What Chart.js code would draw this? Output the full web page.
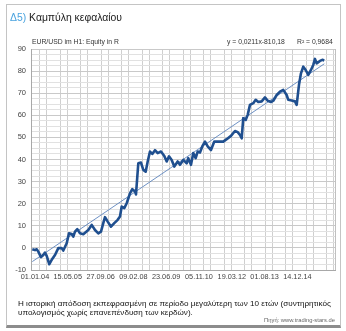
<!DOCTYPE html>
<html><head><meta charset="utf-8">
<script src="https://cdn.jsdelivr.net/npm/chart.js@4.4.1/dist/chart.umd.min.js"></script>
<style>
html,body{margin:0;padding:0;background:#fff;}
#wrap{position:relative;width:346px;height:331px;overflow:hidden;font-family:"Liberation Sans",Arial,sans-serif;}
#frame{position:absolute;left:6px;top:4px;width:333px;height:320px;border:1px solid #c4c4c4;border-bottom:3px solid #8c8c8c;}
canvas{position:absolute;left:0;top:0;}
.t{position:absolute;white-space:nowrap;}
</style></head><body>
<div id="wrap">
<div id="frame"></div>
<canvas id="c" width="346" height="331"></canvas>
<div class="t" style="left:10px;top:12px;font-size:10.4px;line-height:12px;color:#1a1a1a"><span style="color:#4aa3df">Δ5)</span> Καμπύλη κεφαλαίου</div>
<div class="t" style="left:32px;top:38px;font-size:6.8px;line-height:8px;color:#333">EUR/USD im H1: Equity in R</div>
<div class="t" style="left:227px;top:38px;font-size:6.8px;line-height:8px;color:#333">y = 0,0211x-810,18</div>
<div class="t" style="left:297px;top:38px;font-size:6.8px;line-height:8px;color:#333">R² = 0,9684</div>
<div class="t" style="left:18px;top:298.5px;font-size:8.1px;line-height:10px;color:#111">Η ιστορική απόδοση εκπεφρασμένη σε περίοδο μεγαλύτερη των 10 ετών (συντηρητικός</div>
<div class="t" style="left:18px;top:308px;font-size:8.1px;line-height:10px;color:#111">υπολογισμός χωρίς επανεπένδυση των κερδών).</div>
<div class="t" style="right:11px;top:316.5px;font-size:5.8px;line-height:7px;color:#666">Πηγή: www.trading-stars.de</div>
</div>
<script>
// ---- data (decimal years / equity in R) ----
const years = [2003.887,2004.000,2004.071,2004.138,2004.250,2004.346,2004.417,2004.488,2004.597,2004.697,
2004.835,2004.972,2005.114,2005.181,2005.323,2005.419,2005.531,2005.598,2005.669,2005.765,
2005.878,2006.016,2006.224,2006.366,2006.504,2006.642,2006.754,2006.850,2006.921,2007.034,
2007.171,2007.309,2007.451,2007.547,2007.618,2007.726,2007.827,2007.964,2008.060,2008.173,
2008.215,2008.311,2008.423,2008.519,2008.619,2008.703,2008.799,2008.895,2009.008,2009.120,
2009.258,2009.396,2009.496,2009.592,2009.704,2009.813,2009.955,2010.051,2010.189,2010.330,
2010.397,2010.510,2010.606,2010.706,2010.789,2010.885,2010.981,2011.094,2011.207,2011.344,
2011.482,2011.649,2011.858,2011.999,2012.179,2012.346,2012.459,2012.555,2012.625,2012.692,
2012.793,2012.876,2012.972,2013.110,2013.210,2013.318,2013.460,2013.598,2013.711,2013.848,
2013.944,2014.086,2014.224,2014.361,2014.503,2014.570,2014.712,2014.850,2014.921,2015.017,
2015.100,2015.196,2015.296,2015.405,2015.517,2015.613,2015.684,2015.755,2015.893,2015.989,2016.073];
const equity = [-0.6,-1.0,-0.6,-1.7,-4.2,-3.2,-2.1,-3.6,-7.4,-5.4,
-3.2,-0.1,-0.1,-1.2,2.1,6.6,6.3,5.1,7.4,8.5,
6.6,6.2,8.1,10.4,8.1,6.6,7.4,11.2,13.9,11.9,
9.6,11.2,12.7,14.2,18.7,18.0,20.2,24.7,26.6,25.5,
24.2,38.3,38.6,35.3,34.5,39.1,43.6,42.5,44.2,42.9,
43.6,41.6,39.1,41.4,39.8,36.8,39.1,37.6,39.8,38.3,
40.6,37.6,42.9,40.6,43.6,43.2,45.9,48.1,45.9,44.3,
48.1,48.1,48.1,49.2,50.7,52.9,52.4,51.1,49.6,58.7,
57.9,60.2,64.7,65.5,67.0,66.0,66.3,68.1,66.6,66.0,
66.6,69.2,70.7,71.5,69.2,67.0,66.7,66.3,64.7,73.8,
79.0,82.0,80.5,78.3,80.5,82.8,85.5,83.5,84.6,85.1,84.8];
const trendYears = [2003.887, 2016.073];
const trendValues = [-6.2, 83.3];
const xTickLabels = ["01.01.04","15.05.05","27.09.06","09.02.08","23.06.09","05.11.10","19.03.12","01.08.13","14.12.14"];
const yTicks = [-10,0,10,20,30,40,50,60,70,80,90];

// helpers
function labelToYear(s){
  const [d,m,y]=s.split('.').map(Number);
  const full=2000+y;
  const t=Date.UTC(full,m-1,d), t0=Date.UTC(full,0,1), t1=Date.UTC(full+1,0,1);
  return full+(t-t0)/(t1-t0);
}
const tickYears = xTickLabels.map(labelToYear);
const XMIN=2003.833, XMAX=2016.52;
// vertical grid pattern (pairs of lines)
const gridX=[];
for(let k=-8;k<=8;k++){
  const a=2010.189+k*0.8555, b=a+0.28;
  if(a>XMIN+0.05&&a<XMAX-0.02) gridX.push(a);
  if(b>XMIN+0.05&&b<XMAX-0.02) gridX.push(b);
}
gridX.sort((p,q)=>p-q);

new Chart(document.getElementById('c'),{
  type:'line',
  data:{datasets:[
    {data:years.map((x,i)=>({x,y:equity[i]})),borderColor:'#1f4f8f',borderWidth:2.6,pointRadius:0,tension:0,order:1,borderJoinStyle:'round',xAxisID:'x',yAxisID:'y'},
    {data:trendYears.map((x,i)=>({x,y:trendValues[i]})),borderColor:'#5d84bd',borderWidth:0.9,pointRadius:0,order:2,xAxisID:'x',yAxisID:'y'}
  ]},
  options:{
    responsive:false,animation:false,devicePixelRatio:1,
    layout:{padding:{left:0,right:11,top:49,bottom:49}},
    plugins:{legend:{display:false},tooltip:{enabled:false}},
    scales:{
      x:{type:'linear',position:'bottom',min:XMIN,max:XMAX,
        afterBuildTicks:s=>{s.ticks=tickYears.map(v=>({value:v}));},
        afterFit:s=>{s.height=12;},
        grid:{display:false,drawTicks:false},
        border:{display:true,color:'#a8a8a8',width:1},
        ticks:{autoSkip:false,maxRotation:0,padding:3,color:'#444',font:{family:'Liberation Sans',size:7.3},
          callback:(v,i)=>xTickLabels[i]}
      },
      x2:{type:'linear',position:'top',min:XMIN,max:XMAX,
        afterBuildTicks:s=>{s.ticks=gridX.map(v=>({value:v}));},
        afterFit:s=>{s.height=0;},
        grid:{display:true,drawTicks:false,color:'#cfcfcf',lineWidth:1},
        border:{display:false},
        ticks:{display:false}
      },
      y:{type:'linear',min:-10,max:90,
        afterBuildTicks:s=>{const t=[];for(let v=-10;v<=90.001;v+=2.5)t.push({value:v});s.ticks=t;},
        afterFit:s=>{s.width=31;},
        grid:{drawTicks:false,color:c=>(Math.round(c.tick.value*10)%100===0?'#c9c9c9':'#e1e1e1'),lineWidth:1},
        border:{display:true,color:'#a8a8a8',width:1},
        ticks:{autoSkip:false,padding:5,color:'#444',font:{family:'Liberation Sans',size:7.5},
          callback:v=>(yTicks.includes(Math.round(v*100)/100)?String(v):'')}
      }
    }
  },
  plugins:[{id:'rightEdge',afterDraw(ch){const a=ch.chartArea,c=ch.ctx;c.save();c.strokeStyle='#c0c0c0';c.lineWidth=1;c.beginPath();c.moveTo(Math.round(a.right)+0.5,a.top);c.lineTo(Math.round(a.right)+0.5,a.bottom);c.stroke();c.restore();}}]
});
</script>
</body></html>
